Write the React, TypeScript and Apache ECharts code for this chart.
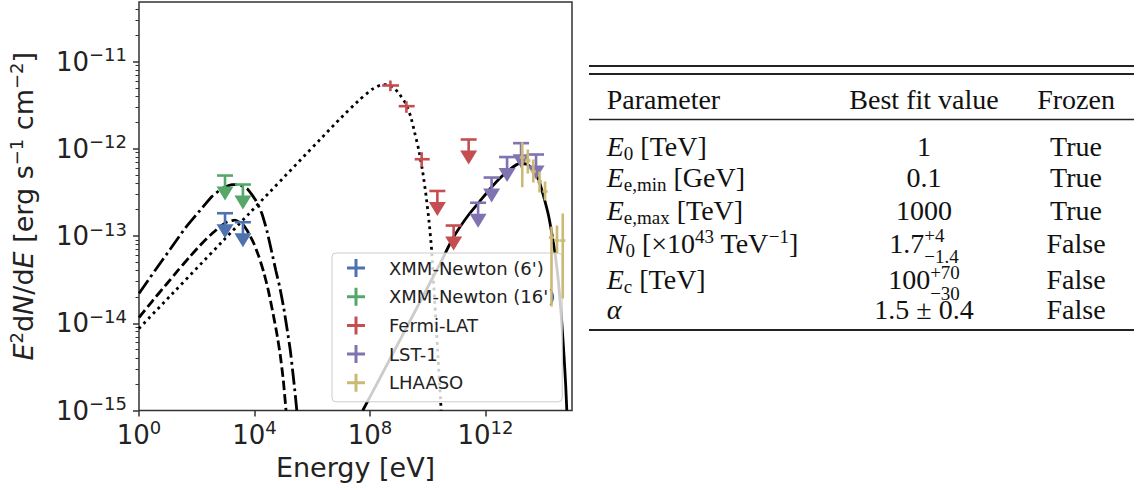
import React, { useEffect, useRef } from "react";
import * as echarts from "echarts";

// ---------- DATA (log10 of energy in eV, log10 of E^2 dN/dE in erg s^-1 cm^-2) ----------
const xAxisTicks = [0, 4, 8, 12];
const yAxisTicks = [-15, -14, -13, -12, -11];
const yMinorMultipliers = [2, 3, 4, 5, 6, 7, 8, 9];

const xmm6UlLogE = [2.98, 3.6];
const xmm6UlLogF = [-12.739, -12.842];
const xmm16UlLogE = [2.98, 3.6];
const xmm16UlLogF = [-12.307, -12.41];

const fermiLogE = [8.709, 9.263, 9.792];
const fermiLogELo = [8.422, 8.997, 9.55];
const fermiLogEHi = [9.007, 9.55, 10.07];
const fermiLogF = [-11.275, -11.512, -12.12];
const fermiLogFLo = [-11.34, -11.588, -12.21];
const fermiLogFHi = [-11.218, -11.455, -12.04];
const fermiUlLogE = [10.336, 10.9, 11.42];
const fermiUlLogF = [-12.484, -12.88, -11.894];

const lstUlLogE = [11.747, 12.215, 12.751, 13.235, 13.754];
const lstUlLogF = [-12.619, -12.33, -12.095, -11.936, -12.066];

const lhaasoLogE = [13.277, 13.47, 13.66, 13.875, 14.066, 14.29, 14.48, 14.68];
const lhaasoLogELo = [13.19, 13.38, 13.57, 13.785, 13.976, 14.2, 14.39, 14.59];
const lhaasoLogEHi = [13.367, 13.56, 13.75, 13.965, 14.156, 14.38, 14.57, 14.77];
const lhaasoLogF = [-12.1, -12.135, -12.261, -12.375, -12.49, -13.017, -13.052, -13.052];
const lhaasoLogFLo = [-12.441, -12.284, -12.387, -12.501, -12.593, -13.808, -13.201, -13.716];
const lhaasoLogFHi = [-11.925, -12.009, -12.123, -12.261, -12.375, -12.891, -12.88, -12.742];

// model curves
const dashDotLogE = [0, 0.554, 1.073, 1.592, 2.111, 2.526, 2.872, 3.218, 3.495, 3.772, 4.048, 4.256, 4.429, 4.602, 4.74, 4.879, 5.017, 5.138, 5.242, 5.329, 5.398, 5.467];
const dashDotLogF = [-13.659, -13.395, -13.155, -12.914, -12.708, -12.547, -12.456, -12.41, -12.416, -12.467, -12.593, -12.742, -12.937, -13.189, -13.395, -13.59, -13.831, -14.083, -14.312, -14.564, -14.771, -15.0];

const dashedLogE = [0, 0.45, 0.958, 1.349, 1.765, 2.111, 2.457, 2.768, 3.045, 3.322, 3.599, 3.806, 3.979, 4.152, 4.325, 4.481, 4.637, 4.775, 4.896, 5.0, 5.093];
const dashedLogF = [-13.934, -13.751, -13.55, -13.395, -13.235, -13.109, -12.994, -12.903, -12.84, -12.817, -12.868, -12.971, -13.086, -13.235, -13.418, -13.625, -13.877, -14.117, -14.37, -14.656, -15.0];

const dottedLogE = [0, 3.841, 6.955, 7.647, 8.062, 8.374, 8.616, 8.824, 9.031, 9.239, 9.412, 9.55, 9.689, 9.827, 9.948, 10.052, 10.138, 10.242, 10.346, 10.467];
const dottedLogF = [-14.06, -12.734, -11.659, -11.436, -11.321, -11.269, -11.264, -11.298, -11.378, -11.481, -11.63, -11.814, -12.009, -12.261, -12.547, -12.845, -13.166, -13.739, -14.312, -15.0];

const solidLogE = [7.751, 8.339, 9.031, 9.723, 10.415, 10.83, 11.107, 11.453, 11.799, 12.145, 12.491, 12.837, 13.183, 13.46, 13.702, 13.875, 14.048, 14.187, 14.325, 14.429, 14.533, 14.637, 14.723, 14.782, 14.82];
const solidLogF = [-15.0, -14.633, -14.198, -13.762, -13.327, -13.052, -12.903, -12.742, -12.605, -12.467, -12.341, -12.238, -12.169, -12.181, -12.261, -12.387, -12.582, -12.765, -13.017, -13.235, -13.533, -13.946, -14.37, -14.713, -15.0];

const instrumentNames = ["XMM-Newton (6')", "XMM-Newton (16')", "Fermi-LAT", "LST-1", "LHAASO"];
const instrumentColors = ["#4C72B0", "#55A868", "#C44E52", "#8172B2", "#CCB974"];

// table
const tableHeaders = ["Parameter", "Best fit value", "Frozen"];
const frozenValues = ["True", "True", "True", "False", "False", "False"];
type Run = { t?: string; k: "rm" | "it" | "sub" | "sup" | "ss"; sup?: string; sub?: string };
const paramRuns: Run[][] = [
  [{ t: "E", k: "it" }, { t: "0", k: "sub" }, { t: " [TeV]", k: "rm" }],
  [{ t: "E", k: "it" }, { t: "e,min", k: "sub" }, { t: " [GeV]", k: "rm" }],
  [{ t: "E", k: "it" }, { t: "e,max", k: "sub" }, { t: " [TeV]", k: "rm" }],
  [{ t: "N", k: "it" }, { t: "0", k: "sub" }, { t: " [×10", k: "rm" }, { t: "43", k: "sup" }, { t: " TeV", k: "rm" }, { t: "−1", k: "sup" }, { t: "]", k: "rm" }],
  [{ t: "E", k: "it" }, { t: "c", k: "sub" }, { t: " [TeV]", k: "rm" }],
  [{ t: "α", k: "it" }],
];
const valueRuns: Run[][] = [
  [{ t: "1", k: "rm" }],
  [{ t: "0.1", k: "rm" }],
  [{ t: "1000", k: "rm" }],
  [{ t: "1.7", k: "rm" }, { k: "ss", sup: "+4", sub: "−1.4" }],
  [{ t: "100", k: "rm" }, { k: "ss", sup: "+70", sub: "−30" }],
  [{ t: "1.5 ± 0.4", k: "rm" }],
];

// ---------- helpers ----------
const SERIF = '"Liberation Serif", "Times New Roman", serif';
const SANS = '"DejaVu Sans", sans-serif';
const MAIN_FS = 28;
const SCRIPT_FS = 19;
let measureCtx: CanvasRenderingContext2D | null = null;
function textWidth(text: string, size: number, italic: boolean) {
  if (!measureCtx) measureCtx = document.createElement("canvas").getContext("2d");
  measureCtx!.font = `${italic ? "italic " : ""}${size}px ${SERIF}`;
  return measureCtx!.measureText(text).width;
}
function runWidth(r: Run) {
  if (r.k === "ss") return Math.max(textWidth(r.sup!, SCRIPT_FS, false), textWidth(r.sub!, SCRIPT_FS, false));
  const fs = r.k === "sub" || r.k === "sup" ? SCRIPT_FS : MAIN_FS;
  return textWidth(r.t!, fs, r.k === "it");
}
function txt(text: string, x: number, baseline: number, fs: number, italic: boolean, align = "left") {
  return {
    type: "text",
    x,
    y: baseline - 0.3375 * fs,
    silent: true,
    style: {
      text,
      fontFamily: SERIF,
      fontSize: fs,
      fontStyle: italic ? "italic" : "normal",
      fill: "#111",
      align,
      verticalAlign: "middle",
    },
  };
}
function layoutRuns(runs: Run[], x: number, baseline: number, align: "left" | "center") {
  const total = runs.reduce((s, r) => s + runWidth(r), 0);
  let cx = align === "center" ? x - total / 2 : x;
  const out: any[] = [];
  runs.forEach((r) => {
    if (r.k === "ss") {
      out.push(txt(r.sup!, cx, baseline - 10.5, SCRIPT_FS, false));
      out.push(txt(r.sub!, cx, baseline + 10.5, SCRIPT_FS, false));
    } else if (r.k === "sub") {
      out.push(txt(r.t!, cx, baseline + 4, SCRIPT_FS, false));
    } else if (r.k === "sup") {
      out.push(txt(r.t!, cx, baseline - 10, SCRIPT_FS, false));
    } else {
      out.push(txt(r.t!, cx, baseline, MAIN_FS, r.k === "it"));
    }
    cx += runWidth(r);
  });
  return out;
}

function expLabel(v: number) {
  const n = Math.round(v);
  return `{b|10}{s|${n < 0 ? "−" + Math.abs(n) : n}}`;
}

const plusIcon = "path://M7.5,0H10.5V7.5H18V10.5H10.5V18H7.5V10.5H0V7.5H7.5Z";

function renderErr(color: string) {
  return (params: any, api: any) => {
    const x = api.value(0);
    const y = api.value(1);
    const ul = api.value(6) === 1;
    const p = api.coord([x, y]);
    const ls = { stroke: color, lineWidth: 2.6 };
    if (ul) {
      return {
        type: "group",
        children: [
          { type: "line", shape: { x1: p[0] - 8, y1: p[1], x2: p[0] + 8, y2: p[1] }, style: ls },
          { type: "line", shape: { x1: p[0], y1: p[1], x2: p[0], y2: p[1] + 12 }, style: ls },
          { type: "polygon", shape: { points: [[p[0] - 8.5, p[1] + 11], [p[0] + 8.5, p[1] + 11], [p[0], p[1] + 25]] }, style: { fill: color } },
        ],
      };
    }
    const a = api.coord([api.value(2), y]);
    const b = api.coord([api.value(3), y]);
    const c = api.coord([x, api.value(4)]);
    const d = api.coord([x, api.value(5)]);
    return {
      type: "group",
      children: [
        { type: "line", shape: { x1: a[0], y1: a[1], x2: b[0], y2: b[1] }, style: ls },
        { type: "line", shape: { x1: c[0], y1: c[1], x2: d[0], y2: d[1] }, style: ls },
      ],
    };
  };
}

function ulItems(le: number[], lf: number[]) {
  return le.map((x, i) => [x, lf[i], x, x, lf[i], lf[i], 1]);
}
function detItems(le: number[], lo: number[], hi: number[], lf: number[], flo: number[], fhi: number[]) {
  return le.map((x, i) => [x, lf[i], lo[i], hi[i], flo[i], fhi[i], 0]);
}

function buildOption() {
  const curve = (le: number[], lf: number[], type: any) => ({
    type: "line",
    data: le.map((x, i) => [x, lf[i]]),
    showSymbol: false,
    smooth: 0.15,
    z: 2,
    silent: true,
    lineStyle: { color: "#000", width: 2.8, type, cap: "butt" },
  });

  const instData = [
    ulItems(xmm6UlLogE, xmm6UlLogF),
    ulItems(xmm16UlLogE, xmm16UlLogF),
    [...detItems(fermiLogE, fermiLogELo, fermiLogEHi, fermiLogF, fermiLogFLo, fermiLogFHi), ...ulItems(fermiUlLogE, fermiUlLogF)],
    ulItems(lstUlLogE, lstUlLogF),
    detItems(lhaasoLogE, lhaasoLogELo, lhaasoLogEHi, lhaasoLogF, lhaasoLogFLo, lhaasoLogFHi),
  ];

  const instSeries = instrumentNames.map((name, i) => ({
    type: "custom",
    name,
    data: instData[i],
    dimensions: ["x", "y", "xlo", "xhi", "ylo", "yhi", "ul"],
    encode: { x: 0, y: 1 },
    itemStyle: { color: instrumentColors[i] },
    renderItem: renderErr(instrumentColors[i]),
    z: i === 4 ? 6 : 3,
    silent: true,
  }));

  const yMinor: number[] = [];
  for (let n = -15; n <= -11; n++) yMinorMultipliers.forEach((m) => {
    const v = n + Math.log10(m);
    if (v < -10.318) yMinor.push(v);
  });

  const tickRich = {
    b: { fontFamily: SANS, fontSize: 26, color: "#222", lineHeight: 32 },
    s: { fontFamily: SANS, fontSize: 18, color: "#222", verticalAlign: "top", lineHeight: 18 },
  };

  // table graphic
  const g: any[] = [];
  const ruleX1 = 589, ruleX2 = 1134;
  const rule = (y: number, w: number) => ({ type: "line", silent: true, shape: { x1: ruleX1, y1: y, x2: ruleX2, y2: y }, style: { stroke: "#222", lineWidth: w } });
  g.push(rule(66, 2), rule(74, 2), rule(119.5, 1.5), rule(330, 2));
  const colParamX = 606.7, colValueX = 924, colFrozenX = 1076;
  const headerBase = 109;
  g.push(txt(tableHeaders[0], colParamX, headerBase, MAIN_FS, false, "left"));
  g.push(txt(tableHeaders[1], colValueX, headerBase, MAIN_FS, false, "center"));
  g.push(txt(tableHeaders[2], colFrozenX, headerBase, MAIN_FS, false, "center"));
  const rowBase = [156, 187.3, 220, 252.7, 289.3, 319.3];
  rowBase.forEach((b, i) => {
    g.push(...layoutRuns(paramRuns[i], colParamX, b, "left"));
    g.push(...layoutRuns(valueRuns[i], colValueX, b, "center"));
    g.push(txt(frozenValues[i], colFrozenX, b, MAIN_FS, false, "center"));
  });

  return {
    animation: false,
    backgroundColor: "#fff",
    textStyle: { fontFamily: SANS },
    grid: { left: 139, right: 566, top: 2, bottom: 79.5, show: true, borderColor: "#333", borderWidth: 1.5, backgroundColor: "transparent" },
    legend: {
      data: instrumentNames.map((n) => ({ name: n, icon: plusIcon })),
      orient: "vertical",
      left: 332,
      top: 253,
      itemWidth: 18,
      itemHeight: 18,
      itemGap: 10.7,
      padding: [6, 7, 10, 15],
      backgroundColor: "rgba(255,255,255,0.8)",
      borderColor: "#cccccc",
      borderWidth: 1,
      borderRadius: 4,
      selectedMode: false,
      z: 4,
      textStyle: { fontFamily: SANS, fontSize: 18, color: "#222", padding: [0, 0, 0, 19] },
    },
    xAxis: {
      type: "value",
      min: 0,
      max: 15,
      interval: 4,
      axisLine: { show: false },
      splitLine: { show: false },
      axisTick: { customValues: xAxisTicks, length: 6, lineStyle: { color: "#333", width: 1.5 } },
      axisLabel: { customValues: xAxisTicks, formatter: expLabel, rich: tickRich, margin: 8 },
      name: "Energy [eV]",
      nameLocation: "middle",
      nameGap: 43,
      nameTextStyle: { fontFamily: SANS, fontSize: 27, color: "#222" },
    },
    yAxis: [
      {
        type: "value",
        min: -15,
        max: -10.318,
        interval: 1,
        axisLine: { show: false },
        splitLine: { show: false },
        axisTick: { customValues: yAxisTicks, length: 6, lineStyle: { color: "#333", width: 1.5 } },
        axisLabel: { customValues: yAxisTicks, formatter: expLabel, rich: tickRich, margin: 12 },
        name: "{i|E}{s|2}{r|d}{i|N}{r|/d}{i|E}{r| [erg s}{s|−1}{r| cm}{s|−2}{r|]}",
        nameLocation: "middle",
        nameRotate: 90,
        nameGap: 100,
        nameTextStyle: {
          rich: {
            i: { fontFamily: SANS, fontSize: 27, fontStyle: "italic", color: "#222", lineHeight: 32 },
            r: { fontFamily: SANS, fontSize: 27, color: "#222", lineHeight: 32 },
            s: { fontFamily: SANS, fontSize: 18, color: "#222", verticalAlign: "top", lineHeight: 18 },
          },
        },
      },
      {
        type: "value",
        min: -15,
        max: -10.318,
        position: "left",
        axisLine: { show: false },
        splitLine: { show: false },
        axisLabel: { show: false },
        axisTick: { customValues: yMinor, length: 3.5, lineStyle: { color: "#333", width: 1 } },
      },
    ],
    series: [
      curve(dashDotLogE, dashDotLogF, [16, 4, 2.8, 4]),
      curve(dashedLogE, dashedLogF, [9.5, 4]),
      curve(dottedLogE, dottedLogF, [2.8, 4]),
      curve(solidLogE, solidLogF, "solid"),
      ...instSeries,
    ],
    graphic: g,
  };
}

export default function App() {
  const ref = useRef<HTMLDivElement>(null);
  useEffect(() => {
    const chart = echarts.init(ref.current!, null, { renderer: "svg" });
    chart.setOption(buildOption() as any);
    return () => chart.dispose();
  }, []);
  return <div ref={ref} style={{ position: "fixed", left: 0, top: 0, width: 1138, height: 490, background: "#fff" }} />;
}
